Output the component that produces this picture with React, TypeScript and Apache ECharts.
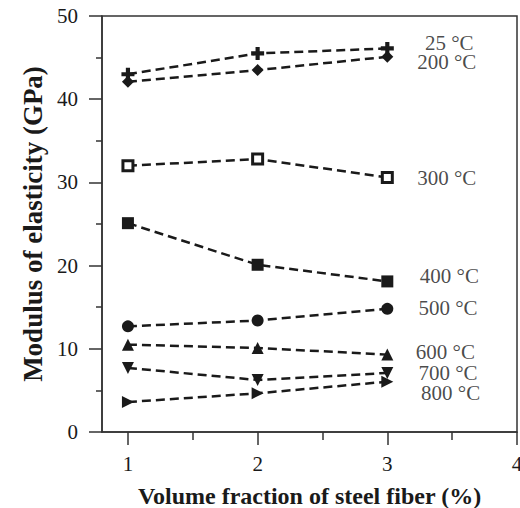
import React, { useEffect, useRef } from "react";
import * as echarts from "echarts";

const xValues = [1, 2, 3];
const t25 = [43.0, 45.5, 46.1];
const t200 = [42.1, 43.5, 45.1];
const t300 = [32.0, 32.8, 30.6];
const t400 = [25.1, 20.1, 18.1];
const t500 = [12.7, 13.4, 14.8];
const t600 = [10.5, 10.1, 9.3];
const t700 = [7.7, 6.25, 7.1];
const t800 = [3.6, 4.65, 6.05];

const seriesNames = ["25 °C", "200 °C", "300 °C", "400 °C", "500 °C", "600 °C", "700 °C", "800 °C"];
const seriesValues = [t25, t200, t300, t400, t500, t600, t700, t800];
const labelX = [3.29, 3.23, 3.23, 3.25, 3.24, 3.22, 3.24, 3.26];
const labelY = [46.7, 44.5, 30.5, 18.8, 14.96, 9.56, 7.09, 4.69];

const xTickLabels = [1, 2, 3, 4];
const xMinorTicks = [1.5, 2.5, 3.5];

const PLUS = "path://M3.4,0H6.6V3.4H10V6.6H6.6V10H3.4V6.6H0V3.4H3.4Z";
const INK = "#1a1a1a";
const AXIS = "#333";
const FONT = "'Liberation Serif', 'Times New Roman', serif";

const markers: any[] = [
  { symbol: PLUS, size: 13, rotate: 0, hollow: false },
  { symbol: "diamond", size: 12, rotate: 0, hollow: false },
  { symbol: "rect", size: 10, rotate: 0, hollow: true },
  { symbol: "rect", size: 12, rotate: 0, hollow: false },
  { symbol: "circle", size: 12, rotate: 0, hollow: false },
  { symbol: "triangle", size: 12, rotate: 0, hollow: false },
  { symbol: "triangle", size: 12, rotate: 180, hollow: false },
  { symbol: "triangle", size: 12, rotate: -90, hollow: false },
];

export default function App() {
  const ref = useRef<HTMLDivElement>(null);
  useEffect(() => {
    if (!ref.current) return;
    const chart = echarts.init(ref.current, undefined, { renderer: "svg" });
    const lineSeries = seriesValues.map((vals, i) => ({
      type: "line",
      name: seriesNames[i],
      xAxisIndex: 0,
      yAxisIndex: 0,
      data: vals.map((v, j) => [xValues[j], v]),
      symbol: markers[i].symbol,
      symbolSize: markers[i].size,
      symbolRotate: markers[i].rotate,
      showAllSymbol: true,
      lineStyle: { color: INK, width: 2.5, type: [9, 5] },
      itemStyle: markers[i].hollow
        ? { color: "#fff", borderColor: INK, borderWidth: 3 }
        : { color: INK, borderWidth: 0 },
      z: 3,
    }));
    const labelSeries = {
      type: "scatter",
      xAxisIndex: 0,
      yAxisIndex: 0,
      symbolSize: 0,
      silent: true,
      data: seriesNames.map((n, i) => ({ name: n, value: [labelX[i], labelY[i]] })),
      label: {
        show: true,
        position: "right",
        distance: 0,
        formatter: (p: any) => p.name,
        color: INK,
        fontFamily: FONT,
        fontSize: 21,
        lineHeight: 14,
      },
    };
    chart.setOption({
      animation: false,
      backgroundColor: "#fff",
      grid: {
        left: 102,
        right: 3,
        top: 16,
        bottom: 76,
        show: true,
        borderColor: AXIS,
        borderWidth: 1.5,
        outerBoundsMode: "none",
      },
      xAxis: [
        {
          type: "value",
          min: 0.8,
          max: 4,
          name: "Volume fraction of steel fiber (%)",
          nameLocation: "middle",
          nameGap: 52,
          nameTextStyle: { fontFamily: FONT, fontWeight: "bold", fontSize: 24, color: INK },
          axisLine: { show: true, lineStyle: { color: AXIS, width: 1.5 } },
          axisTick: { show: true, inside: false, length: 13, customValues: xTickLabels, lineStyle: { color: AXIS, width: 1.5 } },
          axisLabel: { show: true, customValues: xTickLabels, margin: 21, fontFamily: FONT, fontSize: 21, color: INK },
          splitLine: { show: false },
        },
        {
          type: "value",
          min: 0.8,
          max: 4,
          position: "bottom",
          axisLine: { show: false },
          axisTick: { show: true, length: 8, customValues: xMinorTicks, lineStyle: { color: AXIS, width: 1.5 } },
          axisLabel: { show: false },
          splitLine: { show: false },
        },
      ],
      yAxis: {
        type: "value",
        min: 0,
        max: 50,
        interval: 10,
        name: "Modulus of elasticity (GPa)",
        nameLocation: "middle",
        nameGap: 56,
        nameTextStyle: { fontFamily: FONT, fontWeight: "bold", fontSize: 27, color: INK },
        axisLine: { show: true, lineStyle: { color: AXIS, width: 1.5 } },
        axisTick: { show: true, inside: false, length: 13, lineStyle: { color: AXIS, width: 1.5 } },
        minorTick: { show: true, splitNumber: 2, length: 6, lineStyle: { color: AXIS, width: 1.5 } },
        axisLabel: { margin: 24, fontFamily: FONT, fontSize: 21, color: INK },
        splitLine: { show: false },
        minorSplitLine: { show: false },
      },
      series: [...lineSeries, labelSeries],
    });
    return () => chart.dispose();
  }, []);
  return (
    <div
      ref={ref}
      style={{ position: "fixed", left: 0, top: 0, width: 520, height: 508 }}
    />
  );
}
